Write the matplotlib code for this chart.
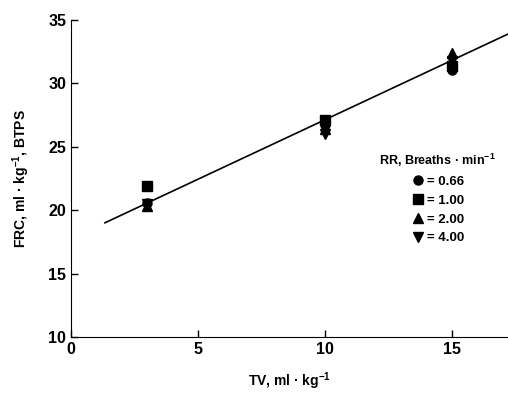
import matplotlib.pyplot as plt

plt.rcParams['font.family'] = ['Liberation Sans', 'DejaVu Sans']
plt.rcParams['mathtext.default'] = 'regular'

# tidal volume, ml/kg
tv = [3, 10, 15]
# FRC, ml/kg BTPS, for each respiratory rate
rr_labels = ['= 0.66', '= 1.00', '= 2.00', '= 4.00']
markers = ['o', 's', '^', 'v']
frc = [
    [20.6, 26.7, 31.1],   # 0.66
    [21.9, 27.1, 31.4],   # 1.00
    [20.3, 26.4, 32.4],   # 2.00
    [20.5, 26.0, 31.8],   # 4.00
]

# regression line
fit_x = [1.33, 17.2]
fit_y = [19.0, 33.9]

fig = plt.figure(figsize=(5.08, 3.94), dpi=100)
ax = fig.add_axes([0.140, 0.145, 0.86, 0.804])

ax.plot(fit_x, fit_y, color='black', lw=1.2)
for vals, m, lab in zip(frc, markers, rr_labels):
    ax.plot(tv, vals, linestyle='none', marker=m, color='black', markersize=6.5, label=lab)

ax.set_xlim(0, 17.2)
ax.set_ylim(10, 35)
ax.set_xticks([0, 5, 10, 15])
ax.set_yticks([10, 15, 20, 25, 30, 35])
ax.tick_params(direction='in', length=5, labelsize=11.5, width=1)
for lbl in ax.get_xticklabels() + ax.get_yticklabels():
    lbl.set_fontweight('bold')
ax.spines['top'].set_visible(False)
ax.spines['right'].set_visible(False)

ax.set_xlabel('TV, ml · kg$^{-1}$', fontsize=10, fontweight='bold', labelpad=10)
ax.set_ylabel('FRC, ml · kg$^{-1}$, BTPS', fontsize=10, fontweight='bold', labelpad=12)

leg = ax.legend(title='RR, Breaths · min$^{-1}$', frameon=False,
                loc='upper left', bbox_to_anchor=(0.69, 0.605),
                handletextpad=0.2, handlelength=1.0, labelspacing=0.5,
                fontsize=9.5, title_fontsize=9, borderpad=0)
for t in leg.get_texts():
    t.set_fontweight('bold')
leg.get_title().set_fontweight('bold')

fig.savefig('out.png', dpi=100)
